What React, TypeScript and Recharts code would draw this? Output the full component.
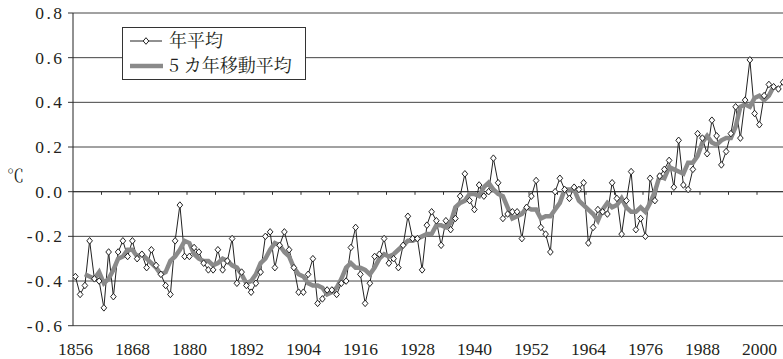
import {
  LineChart,
  Line,
  XAxis,
  YAxis,
  CartesianGrid,
  ReferenceLine,
} from 'recharts';

// 世界の年平均気温偏差 (1856-2005) と 5 カ年移動平均
const START_YEAR = 1856;

const annual = [
  -0.38, -0.46, -0.42, -0.22, -0.39, -0.40, -0.52, -0.27, -0.47, -0.27,
  -0.22, -0.29, -0.22, -0.30, -0.28, -0.34, -0.26, -0.33, -0.37, -0.42,
  -0.46, -0.22, -0.06, -0.29, -0.29, -0.25, -0.27, -0.32, -0.35, -0.35,
  -0.26, -0.35, -0.31, -0.21, -0.41, -0.36, -0.42, -0.45, -0.41, -0.36,
  -0.20, -0.18, -0.34, -0.24, -0.18, -0.26, -0.34, -0.45, -0.45, -0.37,
  -0.30, -0.50, -0.48, -0.44, -0.44, -0.46, -0.41, -0.40, -0.25, -0.16,
  -0.37, -0.50, -0.41, -0.29, -0.28, -0.21, -0.32, -0.30, -0.34, -0.24,
  -0.11, -0.21, -0.21, -0.35, -0.15, -0.09, -0.13, -0.24, -0.13, -0.17,
  -0.12, -0.02, 0.08, -0.04, -0.08, 0.03, -0.02, 0.0, 0.15, 0.04,
  -0.12, -0.10, -0.09, -0.09, -0.21, -0.07, -0.02, 0.05, -0.16, -0.19,
  -0.27, 0.0, 0.06, 0.01, -0.03, 0.02, 0.01, 0.04, -0.23, -0.16,
  -0.08, -0.09, -0.10, 0.04, -0.03, -0.19, -0.04, 0.09, -0.17, -0.12,
  -0.20, 0.06, -0.04, 0.07, 0.10, 0.14, 0.02, 0.23, 0.03, 0.01,
  0.10, 0.26, 0.24, 0.17, 0.32, 0.25, 0.12, 0.18, 0.26, 0.38,
  0.24, 0.41, 0.59, 0.35, 0.30, 0.43, 0.48, 0.47, 0.46, 0.49,
];

// 5 カ年移動平均 (1858-2003)
const MA_START = 1858;
const movingAvg = [
  -0.37, -0.38, -0.39, -0.36, -0.41, -0.39, -0.35, -0.30, -0.29, -0.26,
  -0.26, -0.29, -0.28, -0.30, -0.32, -0.34, -0.37, -0.36, -0.31, -0.29,
  -0.26, -0.22, -0.23, -0.28, -0.30, -0.31, -0.31, -0.33, -0.32, -0.30,
  -0.31, -0.33, -0.34, -0.37, -0.41, -0.40, -0.37, -0.32, -0.30, -0.26,
  -0.23, -0.24, -0.27, -0.29, -0.34, -0.37, -0.38, -0.41, -0.42, -0.42,
  -0.43, -0.46, -0.45, -0.43, -0.39, -0.34, -0.32, -0.34, -0.34, -0.35,
  -0.37, -0.34, -0.30, -0.28, -0.29, -0.28, -0.26, -0.24, -0.22, -0.22,
  -0.21, -0.20, -0.19, -0.19, -0.15, -0.15, -0.16, -0.14, -0.07, -0.05,
  -0.04, -0.01, -0.01, -0.02, 0.02, 0.04, 0.01, -0.01, -0.02, -0.07,
  -0.12, -0.11, -0.10, -0.07, -0.08, -0.08, -0.12, -0.11, -0.11, -0.08,
  -0.05, 0.01, 0.01, 0.01, -0.04, -0.06, -0.08, -0.10, -0.13, -0.08,
  -0.05, -0.07, -0.06, -0.03, -0.07, -0.09, -0.09, -0.07, -0.09, -0.05,
  0.0, 0.07, 0.06, 0.11, 0.10, 0.09, 0.08, 0.13, 0.13, 0.16,
  0.22, 0.25, 0.22, 0.21, 0.23, 0.24, 0.24, 0.29, 0.38, 0.39,
  0.38, 0.42, 0.43, 0.41, 0.43, 0.47,
];

const xTicks = [1856, 1868, 1880, 1892, 1904, 1916, 1928, 1940, 1952, 1964, 1976, 1988, 2000];
const yTicks = [-0.6, -0.4, -0.2, 0.0, 0.2, 0.4, 0.6, 0.8];
// small tick marks on the 0.0 line, between categories every 6 years
const zeroTicks = Array.from({ length: 25 }, (_, k) => 1861.5 + k * 6);

const data = annual.map((v, i) => {
  const year = START_YEAR + i;
  const j = year - MA_START;
  return {
    year,
    annual: v,
    ma: j >= 0 && j < movingAvg.length ? movingAvg[j] : null,
  };
});

const LATIN = 'Liberation Serif';
const MINCHO = 'Noto Serif CJK JP';
const TEXT = '#231f20';

function Diamond(props: any) {
  const { cx, cy, index } = props;
  if (cx == null || cy == null) return <g key={`d-${index}`} />;
  return (
    <path
      key={`d-${index}`}
      d={`M${cx},${cy - 3.3}L${cx + 2.8},${cy}L${cx},${cy + 3.3}L${cx - 2.8},${cy}Z`}
      fill="#fff"
      stroke="#222"
      strokeWidth={1}
    />
  );
}

function YearTick({ x, y, payload }: any) {
  return (
    <text
      x={x}
      y={y}
      dy={12}
      textAnchor="middle"
      fontFamily={LATIN}
      fontSize={17.5}
      fill={TEXT}
      style={{ fontFamily: LATIN, fontSize: 17.5 }}
    >
      {payload.value}
    </text>
  );
}

function TempTick({ x, y, payload }: any) {
  return (
    <text
      x={x + 2.5}
      y={y}
      dy={6}
      textAnchor="end"
      fontFamily={LATIN}
      fontSize={17.5}
      fill={TEXT}
      style={{ fontFamily: LATIN, fontSize: 17.5, letterSpacing: 2.5 }}
    >
      {Number(payload.value).toFixed(1)}
    </text>
  );
}

export default function App() {
  return (
    <div
      style={{
        position: 'absolute',
        left: 0,
        top: 0,
        width: 783,
        height: 359,
        overflow: 'hidden',
        background: '#fff',
      }}
    >
      <LineChart
        width={790}
        height={359}
        data={data}
        margin={{ top: 13, right: 4.5, bottom: 0, left: 0 }}
      >
        <CartesianGrid vertical={false} stroke="#444" strokeWidth={1} />
        <XAxis
          dataKey="year"
          type="number"
          domain={[1855.5, 2005.5]}
          ticks={xTicks}
          allowDataOverflow
          axisLine={false}
          tickLine={false}
          tickSize={6}
          tickMargin={11}
          height={33.3}
          interval={0}
          tick={YearTick}
        />
        <YAxis
          domain={[-0.6, 0.8]}
          ticks={yTicks}
          interval={0}
          width={73}
          axisLine={{ stroke: '#222' }}
          tickLine={{ stroke: '#333' }}
          tickSize={5}
          tickMargin={6}
          tick={TempTick}
        />
        <ReferenceLine y={0} stroke="#333" />
        {zeroTicks.map((t) => (
          <ReferenceLine
            key={`zt-${t}`}
            segment={[
              { x: t, y: 0 },
              { x: t, y: -0.014 },
            ]}
            stroke="#333"
          />
        ))}
        <Line
          type="linear"
          dataKey="annual"
          stroke="#222"
          strokeWidth={1}
          dot={Diamond}
          activeDot={false}
          isAnimationActive={false}
        />
        <Line
          type="linear"
          dataKey="ma"
          stroke="#8a8a8a"
          strokeWidth={4.5}
          dot={false}
          activeDot={false}
          connectNulls={false}
          isAnimationActive={false}
        />
      </LineChart>

      <svg
        width={783}
        height={359}
        style={{ position: 'absolute', left: 0, top: 0, pointerEvents: 'none' }}
      >
        <text x={7} y={182} fontFamily={MINCHO} style={{ fontFamily: MINCHO }} fontSize={17} fill={TEXT}>
          ℃
        </text>
        <rect x={122.5} y={27.5} width={183} height={52} fill="#fff" stroke="#333" strokeWidth={1} />
        <line x1={130} y1={41} x2={162} y2={41} stroke="#222" strokeWidth={1} />
        <path d="M146,37.7L148.8,41L146,44.3L143.2,41Z" fill="#fff" stroke="#222" strokeWidth={1} />
        <text x={169} y={47} fontFamily={MINCHO} style={{ fontFamily: MINCHO }} fontSize={18} fill={TEXT}>
          年平均
        </text>
        <line x1={130} y1={66} x2={163} y2={66} stroke="#8a8a8a" strokeWidth={4.5} />
        <text x={169} y={72} fontFamily={MINCHO} style={{ fontFamily: MINCHO }} fontSize={18} fill={TEXT}>
          5 カ年移動平均
        </text>
      </svg>
    </div>
  );
}
